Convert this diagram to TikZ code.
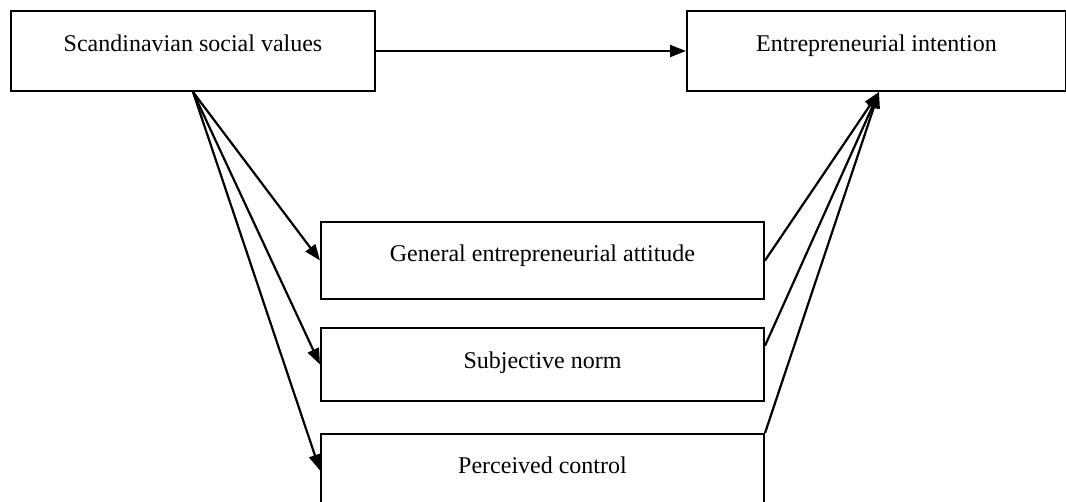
\documentclass[tikz,border=0pt]{standalone}
\usepackage{fontspec}
\setmainfont{Liberation Serif}
\usetikzlibrary{arrows.meta,calc}
\begin{document}
\begin{tikzpicture}[x=1pt,y=-1pt,
  box/.style={draw, line width=2pt, inner sep=0pt, font=\fontsize{24}{29}\selectfont, anchor=north west},
  conn/.style={line width=2.2pt, -{Triangle[length=16pt,width=12pt]}}]
\useasboundingbox (0,0) rectangle (1066,501);
\clip (0,0) rectangle (1066,501);
\node[box, minimum width=364pt, text height=40pt, text depth=40pt] (S) at (10,10) {Scandinavian social values};
\node[box, minimum width=379pt, text height=40pt, text depth=40pt] (I) at (686,10) {Entrepreneurial intention};
\node[box, minimum width=443pt, text height=39pt, text depth=38pt] (A) at (320,221) {General entrepreneurial attitude};
\node[box, minimum width=443pt, text height=40pt, text depth=33pt] (B) at (320,327) {Subjective norm};
\node[box, minimum width=443pt, text height=39pt, text depth=34pt] (C) at (320,433) {Perceived control};
\coordinate (T) at ([xshift=2.5pt]I.south);
\draw[conn] (S.east) -- (I.west);
\draw[conn] (S.south) -- (A.west);
\draw[conn] (S.south) -- (B.west);
\draw[conn] (S.south) -- (C.west);
\draw[conn] (A.east) -- (T);
\draw[conn] ($(B.north east)!0.25!(B.south east)$) -- (T);
\draw[conn] (C.north east) -- (T);
\end{tikzpicture}
\end{document}
